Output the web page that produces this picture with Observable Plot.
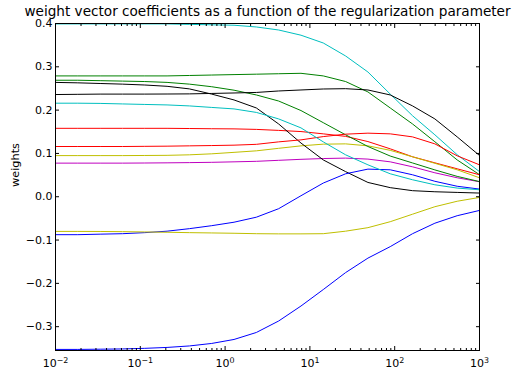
<!DOCTYPE html>
<html><head><meta charset="utf-8">
<script src="https://cdn.jsdelivr.net/npm/d3@7"></script>
<script src="https://cdn.jsdelivr.net/npm/@observablehq/plot@0.6"></script>
<style>body{margin:0;background:#fff} svg{font-family:"DejaVu Sans";}</style>
</head><body><div id="chart"></div>
<script>
const title = "weight vector coefficients as a function of the regularization parameter";
const yLabel = "weights";
const alphas = [0.01, 0.01833, 0.0336, 0.06158, 0.1129, 0.2069, 0.3793, 0.6952, 1.274, 2.336, 4.281, 7.848, 14.38, 26.37, 48.33, 88.59, 162.4, 297.6, 545.6, 1000];

const blue2   = [-0.3525,-0.3525,-0.352,-0.3514,-0.350,-0.3479,-0.3445,-0.3387,-0.3295,-0.3134,-0.2869,-0.2523,-0.2143,-0.1751,-0.1417,-0.1152,-0.0853,-0.0611,-0.0438,-0.0316];
const green1  = [0.279,0.279,0.279,0.279,0.279,0.279,0.280,0.281,0.282,0.283,0.284,0.285,0.279,0.266,0.242,0.205,0.168,0.127,0.085,0.051];
const red1    = [0.158,0.158,0.158,0.158,0.158,0.158,0.1575,0.157,0.1567,0.1555,0.1532,0.1505,0.1452,0.1394,0.1274,0.1106,0.0922,0.0783,0.0645,0.0507];
const cyan1   = [0.399,0.399,0.399,0.399,0.399,0.399,0.398,0.397,0.396,0.392,0.385,0.373,0.355,0.325,0.288,0.237,0.187,0.143,0.097,0.058];
const magenta = [0.0776,0.0776,0.0776,0.0776,0.0779,0.0783,0.0788,0.0795,0.0806,0.0818,0.0841,0.0864,0.0882,0.0892,0.0869,0.0806,0.0691,0.0553,0.0438,0.0346];
const yellow1 = [0.095,0.095,0.095,0.095,0.0953,0.0956,0.0968,0.0991,0.1025,0.106,0.1118,0.1175,0.1214,0.1221,0.1175,0.1071,0.0922,0.0772,0.0622,0.0438];
const black1  = [0.264,0.263,0.2615,0.260,0.258,0.255,0.249,0.237,0.2235,0.205,0.168,0.124,0.085,0.058,0.033,0.021,0.014,0.0115,0.010,0.0085];
const blue1   = [-0.0876,-0.0876,-0.0864,-0.0853,-0.0829,-0.0795,-0.0737,-0.0668,-0.0588,-0.0472,-0.0276,0.0023,0.0316,0.053,0.0638,0.0622,0.0507,0.0357,0.0242,0.0177];
const green2  = [0.269,0.269,0.268,0.267,0.266,0.264,0.260,0.254,0.246,0.235,0.221,0.199,0.171,0.143,0.116,0.094,0.078,0.062,0.047,0.035];
const red2    = [0.116,0.116,0.116,0.116,0.1164,0.1168,0.1175,0.1182,0.1191,0.121,0.1267,0.1313,0.1389,0.1445,0.1468,0.1452,0.1382,0.1221,0.0945,0.0737];
const cyan2   = [0.216,0.216,0.2155,0.2143,0.2131,0.212,0.2097,0.2062,0.2028,0.1947,0.1797,0.159,0.1267,0.0968,0.0737,0.053,0.0392,0.0276,0.020,0.0161];
const yellow2 = [-0.080,-0.080,-0.0802,-0.0806,-0.0813,-0.082,-0.0829,-0.0836,-0.0843,-0.0853,-0.0857,-0.0857,-0.0853,-0.0795,-0.0714,-0.0576,-0.0403,-0.023,-0.0104,-0.0016];
const black2  = [0.236,0.2365,0.237,0.237,0.237,0.2372,0.2375,0.2385,0.2396,0.2408,0.2442,0.2465,0.2488,0.2495,0.2465,0.235,0.2097,0.1797,0.1382,0.0952];

const seriesNames = ["blue2","green1","red1","cyan1","magenta","yellow1","black1","blue1","green2","red2","cyan2","yellow2","black2"];
const seriesValues = [blue2,green1,red1,cyan1,magenta,yellow1,black1,blue1,green2,red2,cyan2,yellow2,black2];
const seriesColors = ["#0000ff","#008000","#ff0000","#00bfbf","#bf00bf","#bfbf00","#000000","#0000ff","#008000","#ff0000","#00bfbf","#bfbf00","#000000"];

const yTicks = [-0.3,-0.2,-0.1,0.0,0.1,0.2,0.3,0.4];
const yTickLabels = ["\u22120.3","\u22120.2","\u22120.1","0.0","0.1","0.2","0.3","0.4"];
const xTicks = [0.01,0.1,1,10,100,1000];
const xTickBase = "10";
const xTickExps = ["\u22122","\u22121","0","1","2","3"];
const xMinor = [0.02,0.03,0.04,0.05,0.06,0.07,0.08,0.09,0.2,0.3,0.4,0.5,0.6,0.7,0.8,0.9,2,3,4,5,6,7,8,9,20,30,40,50,60,70,80,90,200,300,400,500,600,700,800,900];

const rows = seriesNames.flatMap((n, k) => seriesValues[k].map((v, i) => ({alpha: alphas[i], w: v, name: n})));

const chart = Plot.plot({
  width: 512, height: 371,
  marginLeft: 55, marginRight: 33, marginTop: 23, marginBottom: 21,
  style: {fontFamily: "DejaVu Sans", fontSize: "11px", background: "#fff", color: "#000", overflow: "visible"},
  x: {type: "log", domain: [0.01, 1000]},
  y: {domain: [-0.355, 0.4]},
  color: {domain: seriesNames, range: seriesColors},
  marks: [
    Plot.line(rows, {x: "alpha", y: "w", z: "name", stroke: "name", strokeWidth: 1}),
    Plot.frame({stroke: "#000", strokeWidth: 1}),
    Plot.axisY(yTicks, {anchor: "left", tickSize: 0, tickPadding: 3, tickFormat: d => yTickLabels[yTicks.indexOf(d)], label: null, fontSize: 11}),
    Plot.axisY(yTicks, {anchor: "left", tickSize: 4, dx: 4, text: null, label: null}),
    Plot.axisY(yTicks, {anchor: "right", tickSize: 4, dx: -4, text: null, label: null}),
    Plot.axisX(xTicks, {anchor: "bottom", tickSize: 0, tickPadding: 9, tickFormat: d => xTickBase + "|" + xTickExps[xTicks.indexOf(d)], label: null, fontSize: 11}),
    Plot.axisX(xTicks, {anchor: "bottom", tickSize: 4, dy: -4, text: null, label: null}),
    Plot.axisX(xTicks, {anchor: "top", tickSize: 4, dy: 4, text: null, label: null}),
    Plot.axisX(xMinor, {anchor: "bottom", tickSize: 2, dy: -2, text: null, label: null}),
    Plot.axisX(xMinor, {anchor: "top", tickSize: 2, dy: 2, text: null, label: null}),
    Plot.text([title], {text: d => d, frameAnchor: "top", dy: -8, lineAnchor: "bottom", fontSize: 13.6}),
    Plot.text([yLabel], {text: d => d, frameAnchor: "left", dx: -40, rotate: -90, fontSize: 11.3})
  ]
});

// turn "10|−2" labels into a base with a raised exponent
d3.select(chart).selectAll("text").each(function() {
  const t = this.textContent;
  if (t.includes("|")) {
    const [b, e] = t.split("|");
    const sel = d3.select(this);
    sel.text(null);
    sel.append("tspan").text(b);
    sel.append("tspan").attr("dy", "-0.5em").attr("font-size", "0.72em").text(e);
  }
});
document.getElementById("chart").appendChild(chart);
</script>
</body></html>
